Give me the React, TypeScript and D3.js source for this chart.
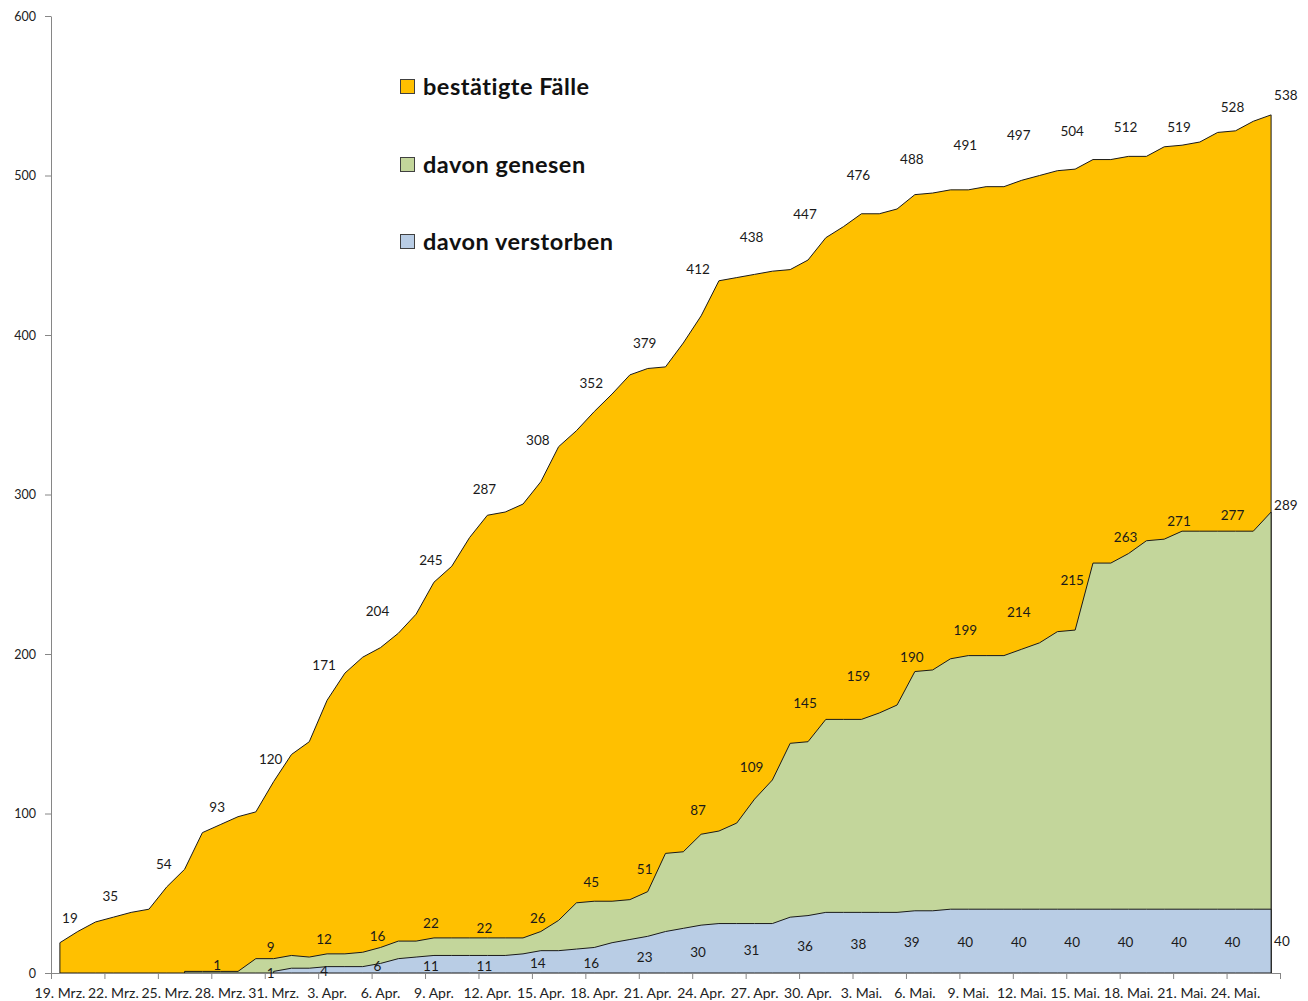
import React, { useRef, useEffect } from 'react';
import * as d3 from 'd3';

// one category per day, 19. Mrz. .. 26. Mai.
const DAYS = d3.timeDay.range(new Date(2020, 2, 19), new Date(2020, 4, 27));
const MONTHS = ['Jan.', 'Feb.', 'Mrz.', 'Apr.', 'Mai.', 'Jun.', 'Jul.', 'Aug.', 'Sep.', 'Okt.', 'Nov.', 'Dez.'];
const dayLabel = (d: Date) => `${d.getDate()}. ${MONTHS[d.getMonth()]}`;

const confirmed = [
  19, 26, 32, 35, 38, 40, 54, 65, 88, 93,
  98, 101, 120, 137, 145, 171, 188, 198, 204, 213,
  225, 245, 255, 273, 287, 289, 294, 308, 330, 340,
  352, 363, 375, 379, 380, 395, 412, 434, 436, 438,
  440, 441, 447, 461, 468, 476, 476, 479, 488, 489,
  491, 491, 493, 493, 497, 500, 503, 504, 510, 510,
  512, 512, 518, 519, 521, 527, 528, 534, 538,
];

const recovered = [
  null, null, null, null, null, null, null, 1, 1, 1,
  1, 9, 9, 11, 10, 12, 12, 13, 16, 20,
  20, 22, 22, 22, 22, 22, 22, 26, 33, 44,
  45, 45, 46, 51, 75, 76, 87, 89, 94, 109,
  121, 144, 145, 159, 159, 159, 163, 168, 189, 190,
  197, 199, 199, 199, 203, 207, 214, 215, 257, 257,
  263, 271, 272, 277, 277, 277, 277, 277, 289,
];

const deaths = [
  null, null, null, null, null, null, null, null, null, null,
  null, null, 1, 3, 3, 4, 4, 4, 6, 9,
  10, 11, 11, 11, 11, 11, 12, 14, 14, 15,
  16, 19, 21, 23, 26, 28, 30, 31, 31, 31,
  31, 35, 36, 38, 38, 38, 38, 38, 39, 39,
  40, 40, 40, 40, 40, 40, 40, 40, 40, 40,
  40, 40, 40, 40, 40, 40, 40, 40, 40,
];

// data labels: shown every third day plus the last day, as printed in the chart
const confirmedLabelDays = [...d3.range(0, 67, 3), 68];
const confirmedLabels = ['19', '35', '54', '93', '120', '171', '204', '245', '287', '308', '352', '379', '412', '438', '447', '476', '488', '491', '497', '504', '512', '519', '528', '538'];
// height (in cases) where each label sits
const confirmedLabelAt = [34, 48, 68, 104, 134, 193, 227, 259, 303, 334, 370, 395, 441, 461, 476, 500, 510, 519, 525, 528, 530, 530, 543, 550];

const recoveredLabelDays = [...d3.range(9, 67, 3), 68];
const recoveredLabels = ['1', '9', '12', '16', '22', '22', '26', '45', '51', '87', '109', '145', '159', '190', '199', '214', '215', '263', '271', '277', '289'];
const recoveredLabelAt = [5, 16, 21, 23, 31, 28, 34, 57, 65, 102, 129, 169, 186, 198, 215, 226, 246, 273, 283, 287, 293];

const deathLabelDays = [...d3.range(12, 67, 3), 68];
const deathLabels = ['1', '4', '6', '11', '11', '14', '16', '23', '30', '31', '36', '38', '39', '40', '40', '40', '40', '40', '40', '40'];
const deathLabelAt = [0, 1, 4, 4, 4, 6, 6, 10, 13, 14, 17, 18, 19, 19, 19, 19, 19, 19, 19, 20];

const SERIES = [
  { name: 'bestätigte Fälle', values: confirmed, color: '#FFC000', labelDays: confirmedLabelDays, labels: confirmedLabels, labelAt: confirmedLabelAt },
  { name: 'davon genesen', values: recovered, color: '#C3D69B', labelDays: recoveredLabelDays, labels: recoveredLabels, labelAt: recoveredLabelAt },
  { name: 'davon verstorben', values: deaths, color: '#B9CDE5', labelDays: deathLabelDays, labels: deathLabels, labelAt: deathLabelAt },
];

const yTicks = [0, 100, 200, 300, 400, 500, 600];

const W = 1308, H = 1001;
const FONT = 'Lato, "Liberation Sans", sans-serif';

export default function App() {
  const svgRef = useRef(null);

  useEffect(() => {
    const svg = d3.select(svgRef.current);
    svg.selectAll('*').remove();

    const x = d3.scaleBand().domain(d3.range(DAYS.length)).range([51, 1280]).padding(0);
    const cx = (i: number) => x(i) + x.bandwidth() / 2;
    const y = d3.scaleLinear().domain([0, 600]).range([973, 16]);

    // areas, drawn on top of each other (not stacked)
    const area = d3.area()
      .defined(d => d[1] != null)
      .x(d => cx(d[0]))
      .y0(y(0))
      .y1(d => y(d[1]));

    SERIES.forEach(s => {
      svg.append('path')
        .datum(s.values.map((v, i) => [i, v]))
        .attr('d', area)
        .attr('fill', s.color)
        .attr('stroke', '#1a1a1a')
        .attr('stroke-width', 1)
        .attr('stroke-linejoin', 'round');
    });

    // y axis
    const yAxis = svg.append('g').attr('transform', 'translate(51,0)')
      .call(d3.axisLeft(y).tickValues(yTicks).tickSize(6).tickPadding(9).tickSizeOuter(0));
    yAxis.select('.domain').attr('stroke', '#868686');
    yAxis.selectAll('.tick line').attr('stroke', '#868686');
    yAxis.selectAll('.tick text')
      .style('font-family', FONT).style('font-size', '12.5px').attr('fill', '#222');

    // x axis: ticks every 3 days on category boundaries, labels under the first day of each group
    const gx = svg.append('g');
    gx.append('line')
      .attr('x1', 51).attr('x2', 1280).attr('y1', 973.5).attr('y2', 973.5)
      .attr('stroke', '#868686');
    const tickDays = d3.range(0, DAYS.length + 1, 3);
    gx.selectAll('line.tick').data(tickDays).join('line')
      .attr('class', 'tick')
      .attr('x1', d => (d < DAYS.length ? x(d) : 1280) + 0.5)
      .attr('x2', d => (d < DAYS.length ? x(d) : 1280) + 0.5)
      .attr('y1', 973).attr('y2', 979)
      .attr('stroke', '#868686');
    gx.selectAll('text').data(d3.range(0, DAYS.length - 2, 3)).join('text')
      .attr('x', d => cx(d))
      .attr('y', 998)
      .attr('text-anchor', 'middle')
      .style('font-family', FONT).style('font-size', '14px')
      .attr('fill', '#222')
      .text(d => dayLabel(DAYS[d]));

    // data labels
    const last = DAYS.length - 1;
    SERIES.forEach(s => {
      svg.append('g').selectAll('text').data(s.labelDays).join('text')
        .attr('x', d => d === last ? cx(d) + 3 : d === 0 ? cx(d) + 10 : cx(d) - 3)
        .attr('y', (d, k) => y(s.labelAt[k]))
        .attr('dy', '0.35em')
        .attr('text-anchor', d => d === last ? 'start' : 'middle')
        .style('font-family', FONT).style('font-size', '13.5px')
        .attr('fill', '#1a1a1a')
        .text((d, k) => s.labels[k]);
    });

    // legend
    const legend = svg.append('g').attr('transform', 'translate(400,0)');
    const legendY = [87, 165, 242];
    SERIES.forEach((s, k) => {
      legend.append('rect')
        .attr('x', 0.5).attr('y', legendY[k] - 7.5)
        .attr('width', 14).attr('height', 14)
        .attr('fill', s.color)
        .attr('stroke', '#404040');
      legend.append('text')
        .attr('x', 23).attr('y', legendY[k])
        .attr('dy', '0.35em')
        .style('font-family', FONT).style('font-size', '23.5px').style('font-weight', 700)
        .style('letter-spacing', '0.5px')
        .attr('fill', '#111')
        .text(s.name);
    });
  }, []);

  return (
    <div style={{ position: 'absolute', left: 0, top: 0, width: W, height: H, background: '#fff' }}>
      <svg ref={svgRef} width={W} height={H} style={{ display: 'block' }} />
    </div>
  );
}
